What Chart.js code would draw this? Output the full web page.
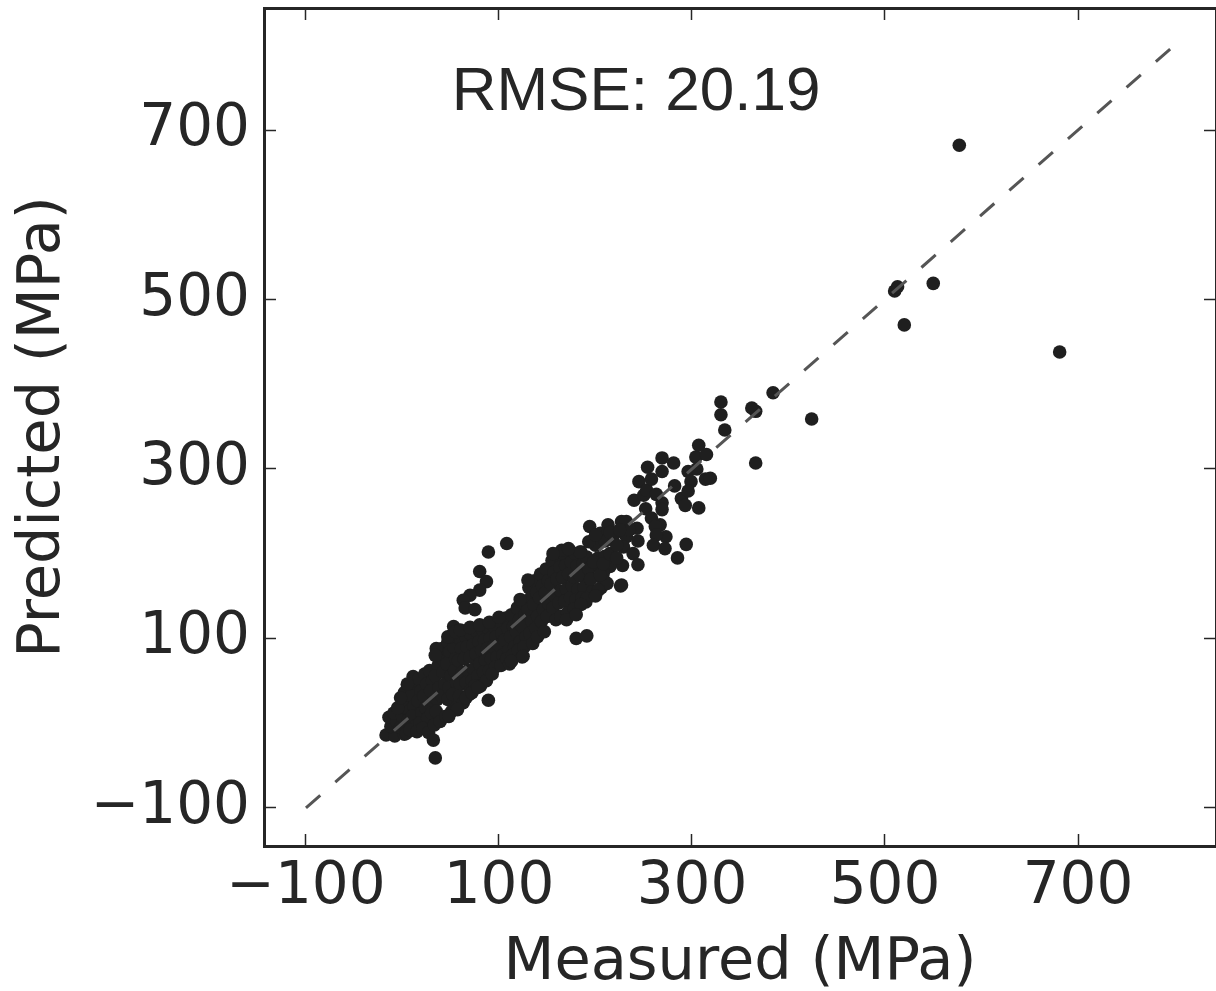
<!DOCTYPE html>
<html>
<head>
<meta charset="utf-8">
<title>Measured vs predicted</title>
<script src="https://cdn.jsdelivr.net/npm/chart.js@4"></script>
<style>
    html, body { margin: 0; padding: 0; background: #fff; }
    #wrap { width: 1216px; height: 991px; }
</style>
</head>
<body>
<div id="wrap"><canvas id="scatterChart" width="1216" height="991"></canvas></div>
<script>
// Values
const xTicks = [-100, 100, 300, 500, 700];
const yTicks = [-100, 100, 300, 500, 700];
const rmseLabel = 'RMSE: 20.19';
const lineX = [-100, 800];
const lineY = [-100, 800];

const measured = [
    -17,-8,-12,-14,-6,-9,2,-2,0,
    3,8,5,2,6,1,8,4,
    11,13,9,12,10,14,8,
    17,19,16,20,18,15,
    23,25,22,24,26,21,27,
    28,31,29,32,30,33,
    35,37,34,38,36,35,39,
    41,43,42,44,41,45,
    47,49,46,50,48,47,51,
    53,55,54,56,52,57,
    59,61,58,62,60,59,63,
    65,67,64,68,66,69,
    71,73,70,74,72,70,
    77,79,76,80,78,81,
    83,85,82,86,84,87,
    89,91,88,92,90,
    95,97,94,98,96,93,
    101,103,100,104,102,
    107,109,106,110,108,111,
    113,115,112,116,114,
    119,121,118,122,120,124,
    125,127,124,128,126,
    131,133,130,134,132,135,
    137,139,136,140,138,140,
    143,145,142,146,144,147,
    149,151,148,152,150,
    155,157,154,158,156,159,
    161,163,160,164,162,164,
    167,169,166,170,168,171,
    173,175,172,176,174,
    179,181,178,182,180,178,
    185,187,184,188,186,
    191,193,195,197,190,
    200,203,205,208,212,206,
    // stragglers around the band
    89,32,34,180,191,227,89,108,80,87,80,70,63,65,75,53,49,35,34,113,125,130,
    // upper cluster
    194,213,227,232,243,205,220,232,244,193,229,239,244,228,226,212,203,165,156,184,172,210,215,208,191,
    252,258,267,262,273,263,260,272,294,285,
    240,250,269,269,245,253,263,254,258,269,281,269,282,
    289,293,307,296,299,296,305,304,315,307,314,319,
    330,330,334,366,362,366,384,424,
    // outliers
    510,513,520,550,577,681,
    // band edges, second pass
    47,55,60,70,80,90,100,122,
    75,66,57,48,72,78,
    -5,5,-2,
    195,200,185,205,198,208,215,222,222,210,200,215,235,225,170,180
];

const predicted = [
    -14,-15,-4,7,2,12,-13,-5,8,
    18,-8,28,36,4,24,15,-12,
    55,44,32,20,8,-3,-8,
    52,38,26,12,0,-10,
    58,46,32,18,6,-6,-11,
    62,50,38,25,12,-2,
    80,68,56,42,28,14,2,
    88,74,60,46,32,8,
    96,84,70,56,42,28,14,
    90,76,62,48,34,20,
    100,88,74,60,46,32,24,
    103,90,76,62,48,34,
    105,92,78,64,50,38,
    108,96,82,70,56,44,
    110,98,86,74,60,50,
    112,100,88,76,62,
    114,102,90,78,66,58,
    120,106,92,80,68,
    124,112,98,86,76,70,
    128,114,102,90,80,
    136,122,108,96,86,78,
    142,128,114,102,90,
    160,148,134,120,106,94,
    168,154,140,126,112,102,
    176,162,148,134,120,108,
    182,168,154,140,126,
    192,178,164,150,136,122,
    198,184,170,156,142,126,
    200,186,172,158,144,130,
    204,190,176,162,148,
    200,186,172,158,146,135,
    202,188,174,160,148,
    196,182,170,156,143,
    210,195,183,170,195,160,
    // stragglers around the band
    27,-20,-41,100,103,163,202,212,179,167,157,151,145,136,134,114,102,88,80,73,79,169,
    // upper cluster
    232,234,238,238,230,224,224,220,215,214,208,200,187,186,162,165,157,204,200,202,206,197,185,177,147,
    253,242,234,232,220,222,210,206,211,195,
    263,269,260,252,285,275,270,302,288,297,307,313,280,
    265,257,254,297,285,274,300,314,317,328,288,289,
    379,364,346,368,372,307,390,359,
    // outliers
    510,515,470,519,682,438,
    // band edges, second pass
    102,108,110,113,116,119,125,146,
    44,30,16,8,36,42,
    18,46,30,
    170,150,140,175,190,188,200,210,195,215,222,225,228,228,122,128
];

const inkColor = '#262626';
const tickFont = { family: '"DejaVu Sans"', size: 58 };
const titleFont = { family: '"DejaVu Sans"', size: 59 };

// Fixed plot box: no label overflow padding from the scales
function fixBox(scale, w, h) {
    if (w !== null) scale.width = w;
    if (h !== null) scale.height = h;
    scale.paddingLeft = 0;
    scale.paddingRight = 0;
    scale.paddingTop = 0;
    scale.paddingBottom = 0;
}

// Same min/max on both axis pairs, ticks point inward
function axisBase(min, max, values) {
    return {
        type: 'linear',
        min: min,
        max: max,
        afterBuildTicks: function(scale) {
            scale.ticks = values.map(v => ({ value: v }));
        },
        grid: { drawOnChartArea: false, drawTicks: true, tickLength: -12, tickWidth: 1.5, tickColor: inkColor },
        border: { display: true, color: inkColor, width: 3 }
    };
}

function fmt(value) {
    return String(value).replace('-', '\u2212');
}

const rmsePlugin = {
    id: 'rmseText',
    afterDatasetsDraw: function(chart) {
        const c = chart.ctx;
        c.save();
        c.font = '62px "Liberation Sans"';
        c.fillStyle = inkColor;
        c.textAlign = 'left';
        c.textBaseline = 'alphabetic';
        c.fillText(rmseLabel, chart.scales.x.getPixelForValue(51), chart.scales.y.getPixelForValue(723.6));
        c.restore();
    }
};

const ctx = document.getElementById('scatterChart').getContext('2d');
const scatterChart = new Chart(ctx, {
    data: {
        datasets: [
            {
                type: 'line',
                data: lineX.map((x, i) => ({ x: x, y: lineY[i] })),
                borderColor: '#555555',
                borderWidth: 3,
                borderDash: [19, 20],
                pointRadius: 0,
                fill: false,
                order: 1
            },
            {
                type: 'scatter',
                data: measured.map((x, i) => ({ x: x, y: predicted[i] })),
                backgroundColor: '#1f1f1f',
                borderWidth: 0,
                pointRadius: 6.8,
                order: 2
            }
        ]
    },
    options: {
        responsive: false,
        animation: false,
        layout: { autoPadding: false, padding: { top: 8, right: 0, bottom: 0, left: 0 } },
        plugins: { legend: { display: false }, tooltip: { enabled: false } },
        scales: {
            x: Object.assign(axisBase(-143.5, 843, xTicks), {
                position: 'bottom',
                afterFit: function(scale) { fixBox(scale, null, 145); },
                ticks: { font: tickFont, color: inkColor, padding: 19, maxRotation: 0, autoSkip: false, callback: fmt },
                title: { display: true, text: 'Measured (MPa)', font: titleFont, color: inkColor, padding: { top: 0, bottom: -8 } }
            }),
            y: Object.assign(axisBase(-145, 844, yTicks), {
                position: 'left',
                afterFit: function(scale) { fixBox(scale, 264, null); },
                ticks: { font: tickFont, color: inkColor, padding: 26, autoSkip: false, callback: fmt },
                title: { display: true, text: 'Predicted (MPa)', font: titleFont, color: inkColor, padding: { top: 8, bottom: 0 } }
            }),
            xTop: Object.assign(axisBase(-143.5, 843, xTicks), {
                position: 'top',
                afterFit: function(scale) { fixBox(scale, null, 0); },
                ticks: { display: false }
            }),
            yRight: Object.assign(axisBase(-145, 844, yTicks), {
                position: 'right',
                afterFit: function(scale) { fixBox(scale, 0, null); },
                ticks: { display: false }
            })
        }
    },
    plugins: [rmsePlugin]
});
</script>
</body>
</html>
